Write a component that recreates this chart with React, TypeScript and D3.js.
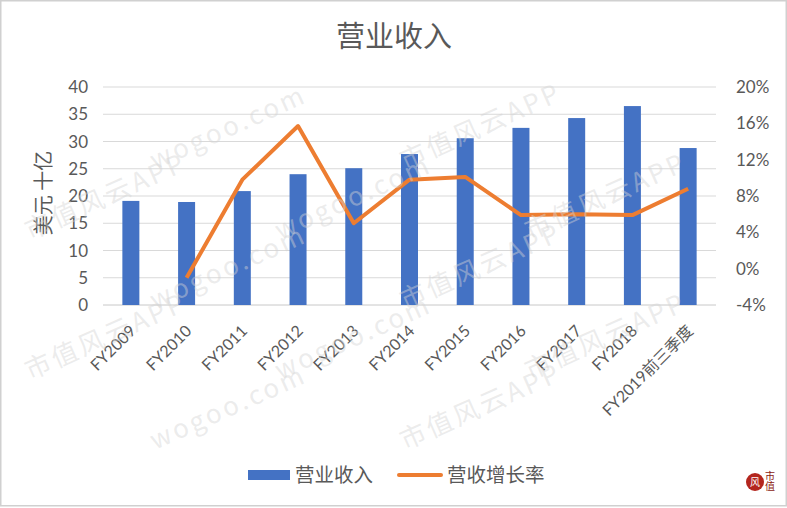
import * as d3 from 'd3'

const categories = [
  'FY2009', 'FY2010', 'FY2011', 'FY2012', 'FY2013', 'FY2014',
  'FY2015', 'FY2016', 'FY2017', 'FY2018', 'FY2019前三季度',
]
// 营业收入, 美元 十亿
const revenue = [19.1, 18.9, 20.9, 24.0, 25.1, 27.7, 30.6, 32.5, 34.3, 36.5, 28.8]
// 营收增长率, %
const growth = [null, -1.0, 9.8, 15.7, 5.0, 9.8, 10.1, 5.9, 6.0, 5.9, 8.8]

const leftTicks = [0, 5, 10, 15, 20, 25, 30, 35, 40]
const rightTicks = [-4, 0, 4, 8, 12, 16, 20]
const watermarkTexts = ['市值风云APP', 'wogoo.com']

const W = 787
const H = 508
const plot = { left: 103, right: 716, top: 87, bottom: 305 }
const textColor = '#595959'
const numFont = "Lato, 'Noto Sans CJK SC', sans-serif"
const cjkFont = "'Noto Sans CJK SC', sans-serif"

export default function App() {
  const x = d3.scaleBand<string>().domain(categories).range([plot.left, plot.right]).padding(0)
  const yL = d3.scaleLinear().domain([0, 40]).range([plot.bottom, plot.top])
  const yR = d3.scaleLinear().domain([-4, 20]).range([plot.bottom, plot.top])
  const barW = 17
  const cx = (c: string) => (x(c) ?? 0) + x.bandwidth() / 2

  const line = d3.line<number | null>()
    .defined(d => d !== null)
    .x((_, i) => cx(categories[i]))
    .y(d => yR(d as number))

  // faint watermark tiles, only those that stay inside the picture
  const marks: { x: number; y: number; t: string }[] = []
  for (let r = 0; r < 8; r++) {
    for (let c = -1; c < 4; c++) {
      const mx = c * 250 + (r % 2) * 125 + 30
      const my = r * 70 + 100
      if (mx < 20 || mx + 200 > W - 10 || my - 100 < 2 || my + 8 > H - 2) continue
      marks.push({ x: mx, y: my, t: watermarkTexts[(r + c + 2) % 2] })
    }
  }

  return (
    <>
      <style>{'body{margin:0}'}</style>
      <svg width={W} height={H} style={{ display: 'block', background: '#fff' }}>
        <rect x={0.75} y={0.75} width={W - 1.5} height={H - 3} fill="#fff" stroke="#d0d0d0" strokeWidth={1.5} />

        {/* gridlines */}
        {leftTicks.map(t => (
          <line key={t} x1={plot.left} x2={plot.right} y1={yL(t)} y2={yL(t)}
            stroke={t === 0 ? '#c8c8c8' : '#d9d9d9'} strokeWidth={1} />
        ))}

        {/* bars */}
        {revenue.map((v, i) => (
          <rect key={categories[i]} x={cx(categories[i]) - barW / 2} y={yL(v)}
            width={barW} height={yL(0) - yL(v)} fill="#4472C4" />
        ))}

        {/* growth line */}
        <path d={line(growth) ?? ''} fill="none" stroke="#ED7D31" strokeWidth={4} strokeLinejoin="round" />

        {/* left axis */}
        {leftTicks.map(t => (
          <text key={t} x={88} y={yL(t)} dy="0.36em" textAnchor="end"
            fontFamily={numFont} fontSize={17} fill={textColor}>{t}</text>
        ))}
        <text transform={`translate(51,${(plot.top + plot.bottom) / 2 - 3}) rotate(-90)`}
          textAnchor="middle" fontFamily={cjkFont} fontSize={20} fill={textColor}>美元 十亿</text>

        {/* right axis */}
        {rightTicks.map(t => (
          <text key={t} x={736} y={yR(t)} dy="0.36em" textAnchor="start"
            fontFamily={numFont} fontSize={17} fill={textColor}>{`${t}%`}</text>
        ))}

        {/* x labels */}
        {categories.map(c => (
          <text key={c} transform={`translate(${cx(c) + 6},${plot.bottom + 27}) rotate(-45)`}
            textAnchor="end" fontFamily={numFont} fontSize={16} fill={textColor}>{c}</text>
        ))}

        {/* title */}
        <text x={394} y={47} textAnchor="middle" fontFamily={cjkFont} fontSize={29} fill={textColor}>营业收入</text>

        {/* legend */}
        <rect x={248} y={470} width={42} height={10} fill="#4472C4" />
        <text x={295} y={475} dy="0.36em" fontFamily={cjkFont} fontSize={19.5} fill={textColor}>营业收入</text>
        <line x1={399} x2={441} y1={475} y2={475} stroke="#ED7D31" strokeWidth={4} strokeLinecap="round" />
        <text x={447} y={475} dy="0.36em" fontFamily={cjkFont} fontSize={19.5} fill={textColor}>营收增长率</text>

        {/* watermark */}
        <g pointerEvents="none">
          {marks.map((m, i) => (
            <text key={i} transform={`translate(${m.x},${m.y}) rotate(-24)`}
              fontFamily={cjkFont} fontSize={26} fill="#d4d4d4" fillOpacity={0.45} letterSpacing={3}>{m.t}</text>
          ))}
        </g>

        {/* logo */}
        <circle cx={755} cy={482} r={9} fill="#b3261e" />
        <text x={755} y={482} dy="0.35em" textAnchor="middle" fontFamily={cjkFont} fontSize={10} fill="#fff">风</text>
        <text x={770} y={471} fontFamily={cjkFont} fontSize={10} fill="#8b1a12"
          style={{ writingMode: 'vertical-rl' }}>市值</text>
      </svg>
    </>
  )
}
